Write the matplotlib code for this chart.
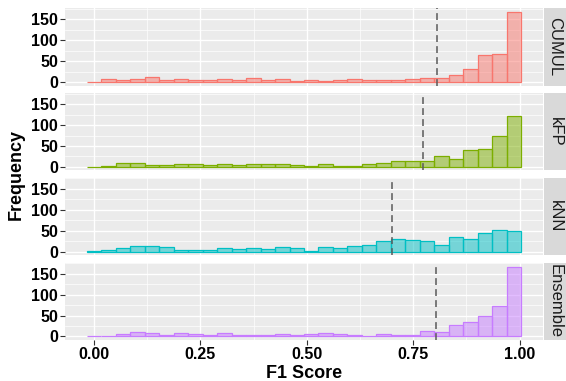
import matplotlib

matplotlib.use("Agg")
from matplotlib import pyplot as plt
import numpy as np

plt.rcParams['font.family'] = ['Liberation Sans', 'DejaVu Sans']

# histogram counts per bin (30 bins, shared across facets)
classifiers = ['CUMUL', 'kFP', 'kNN', 'Ensemble']
colors = ['#F8766D', '#7CAE00', '#00BFC4', '#C77CFF']

cumul_counts = [1, 7, 5, 7, 13, 5, 7, 4, 5, 7, 5, 10, 6, 7, 2,
                5, 2, 5, 7, 5, 5, 6, 7, 9, 10, 18, 31, 64, 66, 168]
kfp_counts = [0, 3, 10, 10, 5, 5, 7, 7, 5, 7, 5, 8, 8, 8, 5,
              3, 8, 3, 1, 6, 10, 15, 15, 14, 26, 18, 41, 42, 73, 121]
knn_counts = [1, 4, 10, 14, 14, 12, 5, 4, 3, 8, 7, 8, 7, 12, 10,
              2, 12, 9, 13, 15, 25, 30, 29, 26, 17, 34, 31, 45, 52, 49]
ensemble_counts = [1, 2, 5, 10, 8, 3, 8, 5, 3, 8, 4, 4, 3, 6, 3,
                   6, 8, 7, 4, 2, 5, 3, 3, 13, 10, 27, 34, 49, 72, 166]
all_counts = [cumul_counts, kfp_counts, knn_counts, ensemble_counts]

# mean F1 per classifier (dashed lines)
mean_f1 = [0.805, 0.774, 0.700, 0.804]

# data range of the scores -> bin layout like ggplot's bins = 30
score_min, score_max = 0.0, 0.987
n_bins = 30
binwidth = (score_max - score_min) / (n_bins - 1)
centers = score_min + binwidth * np.arange(n_bins)

W, H = 566, 381
fig = plt.figure(figsize=(W / 100, H / 100), dpi=100)

left_px, right_px = 65, 543
panel_h = 77.3
gap = 7.5
top0 = 8.3

ymax = max(max(c) for c in all_counts)
ypad = ymax * 0.05
lo = centers[0] - binwidth / 2
hi = centers[-1] + binwidth / 2
xpad = (hi - lo) * 0.05

axes = []
for i, (name, counts, col, m) in enumerate(zip(classifiers, all_counts, colors, mean_f1)):
    top = top0 + i * (panel_h + gap)
    bottom = top + panel_h
    ax = fig.add_axes([left_px / W, 1 - bottom / H, (right_px - left_px) / W, panel_h / H])
    ax.set_facecolor('#EBEBEB')
    ax.bar(centers, counts, width=binwidth, color=col, alpha=0.5, edgecolor='none', zorder=2)
    ax.bar(centers, counts, width=binwidth, color='none', edgecolor=col, linewidth=0.9, zorder=3)
    ax.axvline(m, color='#5A5A5A', linestyle=(0, (4.5, 2.7)), linewidth=1.1, zorder=4)

    ax.set_xlim(lo - xpad, hi + xpad)
    ax.set_ylim(-ypad, ymax + ypad)
    ax.set_yticks([0, 50, 100, 150])
    ax.set_yticks([25, 75, 125, 175], minor=True)
    ax.set_xticks([0, 0.25, 0.5, 0.75, 1.0])
    ax.set_xticks([0.125, 0.375, 0.625, 0.875], minor=True)
    ax.grid(which='major', color='white', linewidth=1.0, zorder=0)
    ax.grid(which='minor', color='white', linewidth=0.5, zorder=0)
    ax.set_axisbelow(True)
    for s in ax.spines.values():
        s.set_visible(False)
    ax.tick_params(axis='both', which='major', length=3.5, width=0.8, color='#333333',
                   labelsize=11.5, labelcolor='black', pad=1.5)
    ax.tick_params(which='minor', length=0)
    for lab in ax.get_yticklabels():
        lab.set_fontweight('bold')
    if i < len(classifiers) - 1:
        ax.tick_params(axis='x', which='major', length=0, labelbottom=False)
    else:
        ax.set_xticklabels(['0.00', '0.25', '0.50', '0.75', '1.00'], fontweight='bold')
        ax.set_xlabel('F1 Score', fontsize=13, fontweight='bold', labelpad=2)

    # facet strip on the right
    sx = fig.add_axes([(right_px + 1) / W, 1 - bottom / H, (W - right_px - 1) / W, panel_h / H])
    sx.set_facecolor('#D9D9D9')
    sx.set_xticks([])
    sx.set_yticks([])
    for s in sx.spines.values():
        s.set_visible(False)
    sx.text(0.5, 0.5, name, rotation=-90, ha='center', va='center', fontsize=12,
            color='#1A1A1A', transform=sx.transAxes)
    axes.append(ax)

mid = (top0 + (top0 + 3 * (panel_h + gap) + panel_h)) / 2
fig.text(16 / W, 1 - mid / H, 'Frequency', rotation=90, ha='center', va='center',
         fontsize=13, fontweight='bold')

fig.savefig('out.png', dpi=100)
